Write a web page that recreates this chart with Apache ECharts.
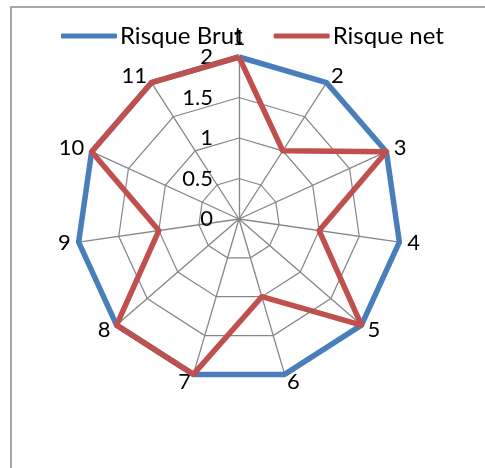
<!DOCTYPE html>
<html>
<head>
<meta charset="utf-8">
<script src="https://cdn.jsdelivr.net/npm/echarts@6/dist/echarts.min.js"></script>
<style>
  html, body { margin: 0; padding: 0; background: #fff; }
  #chart { width: 485px; height: 468px; }
</style>
</head>
<body>
<div id="chart"></div>
<script>
// Spokes of the radar, numbered clockwise from the top
const categories = ['1', '2', '3', '4', '5', '6', '7', '8', '9', '10', '11'];
const risqueBrut = [2, 2, 2, 2, 2, 2, 2, 2, 2, 2, 2];
const risqueNet = [2, 1, 2, 1, 2, 1, 2, 2, 1, 2, 2];
const tickLabels = ['0', '0.5', '1', '1.5', '2'];
const seriesNames = ['Risque Brut', 'Risque net'];

// ECharts lays indicators out counter-clockwise; reorder so they run clockwise
const order = categories.map((_, i) => (i === 0 ? 0 : categories.length - i));
const pick = arr => order.map(i => arr[i]);

const FONT = 'Lato, "Open Sans", sans-serif';

const indicator = pick(categories).map((name, k) => ({
  name: name,
  min: 0,
  max: 2,
  axisLabel: k === 0 ? {
    show: true,
    color: '#000',
    fontSize: 22,
    fontFamily: FONT,
    margin: 26,
    formatter: v => tickLabels[Math.round(v / 0.5)]
  } : { show: false }
}));

const chart = echarts.init(document.getElementById('chart'));
chart.setOption({
  animation: false,
  backgroundColor: '#fff',
  graphic: [{
    type: 'rect',
    shape: { x: 11, y: 7, width: 600, height: 600 },
    style: { fill: 'none', stroke: '#8c8c8c', lineWidth: 1.5 },
    z: -10
  }],
  legend: {
    top: 19,
    left: 56,
    itemWidth: 56,
    itemHeight: 5,
    itemGap: 31,
    icon: 'roundRect',
    textStyle: { color: '#000', fontSize: 24, fontFamily: FONT, padding: [0, 0, 0, -2] },
    data: seriesNames
  },
  radar: {
    center: [239, 219],
    radius: 162,
    startAngle: 90,
    shape: 'polygon',
    splitNumber: 4,
    nameGap: 8,
    axisName: { color: '#000', fontSize: 22, fontFamily: FONT },
    axisLine: { lineStyle: { color: '#868686', width: 1.3 } },
    splitLine: { lineStyle: { color: '#868686', width: 1.2 } },
    splitArea: { show: false },
    axisTick: { show: false },
    axisLabel: { show: false },
    indicator: indicator
  },
  series: [{
    type: 'radar',
    symbol: 'none',
    data: [
      {
        name: seriesNames[0],
        value: pick(risqueBrut),
        lineStyle: { color: '#4a7ebb', width: 5.5 },
        itemStyle: { color: '#4a7ebb' }
      },
      {
        name: seriesNames[1],
        value: pick(risqueNet),
        lineStyle: { color: '#c0504d', width: 5.5 },
        itemStyle: { color: '#c0504d' }
      }
    ]
  }]
});
</script>
</body>
</html>
